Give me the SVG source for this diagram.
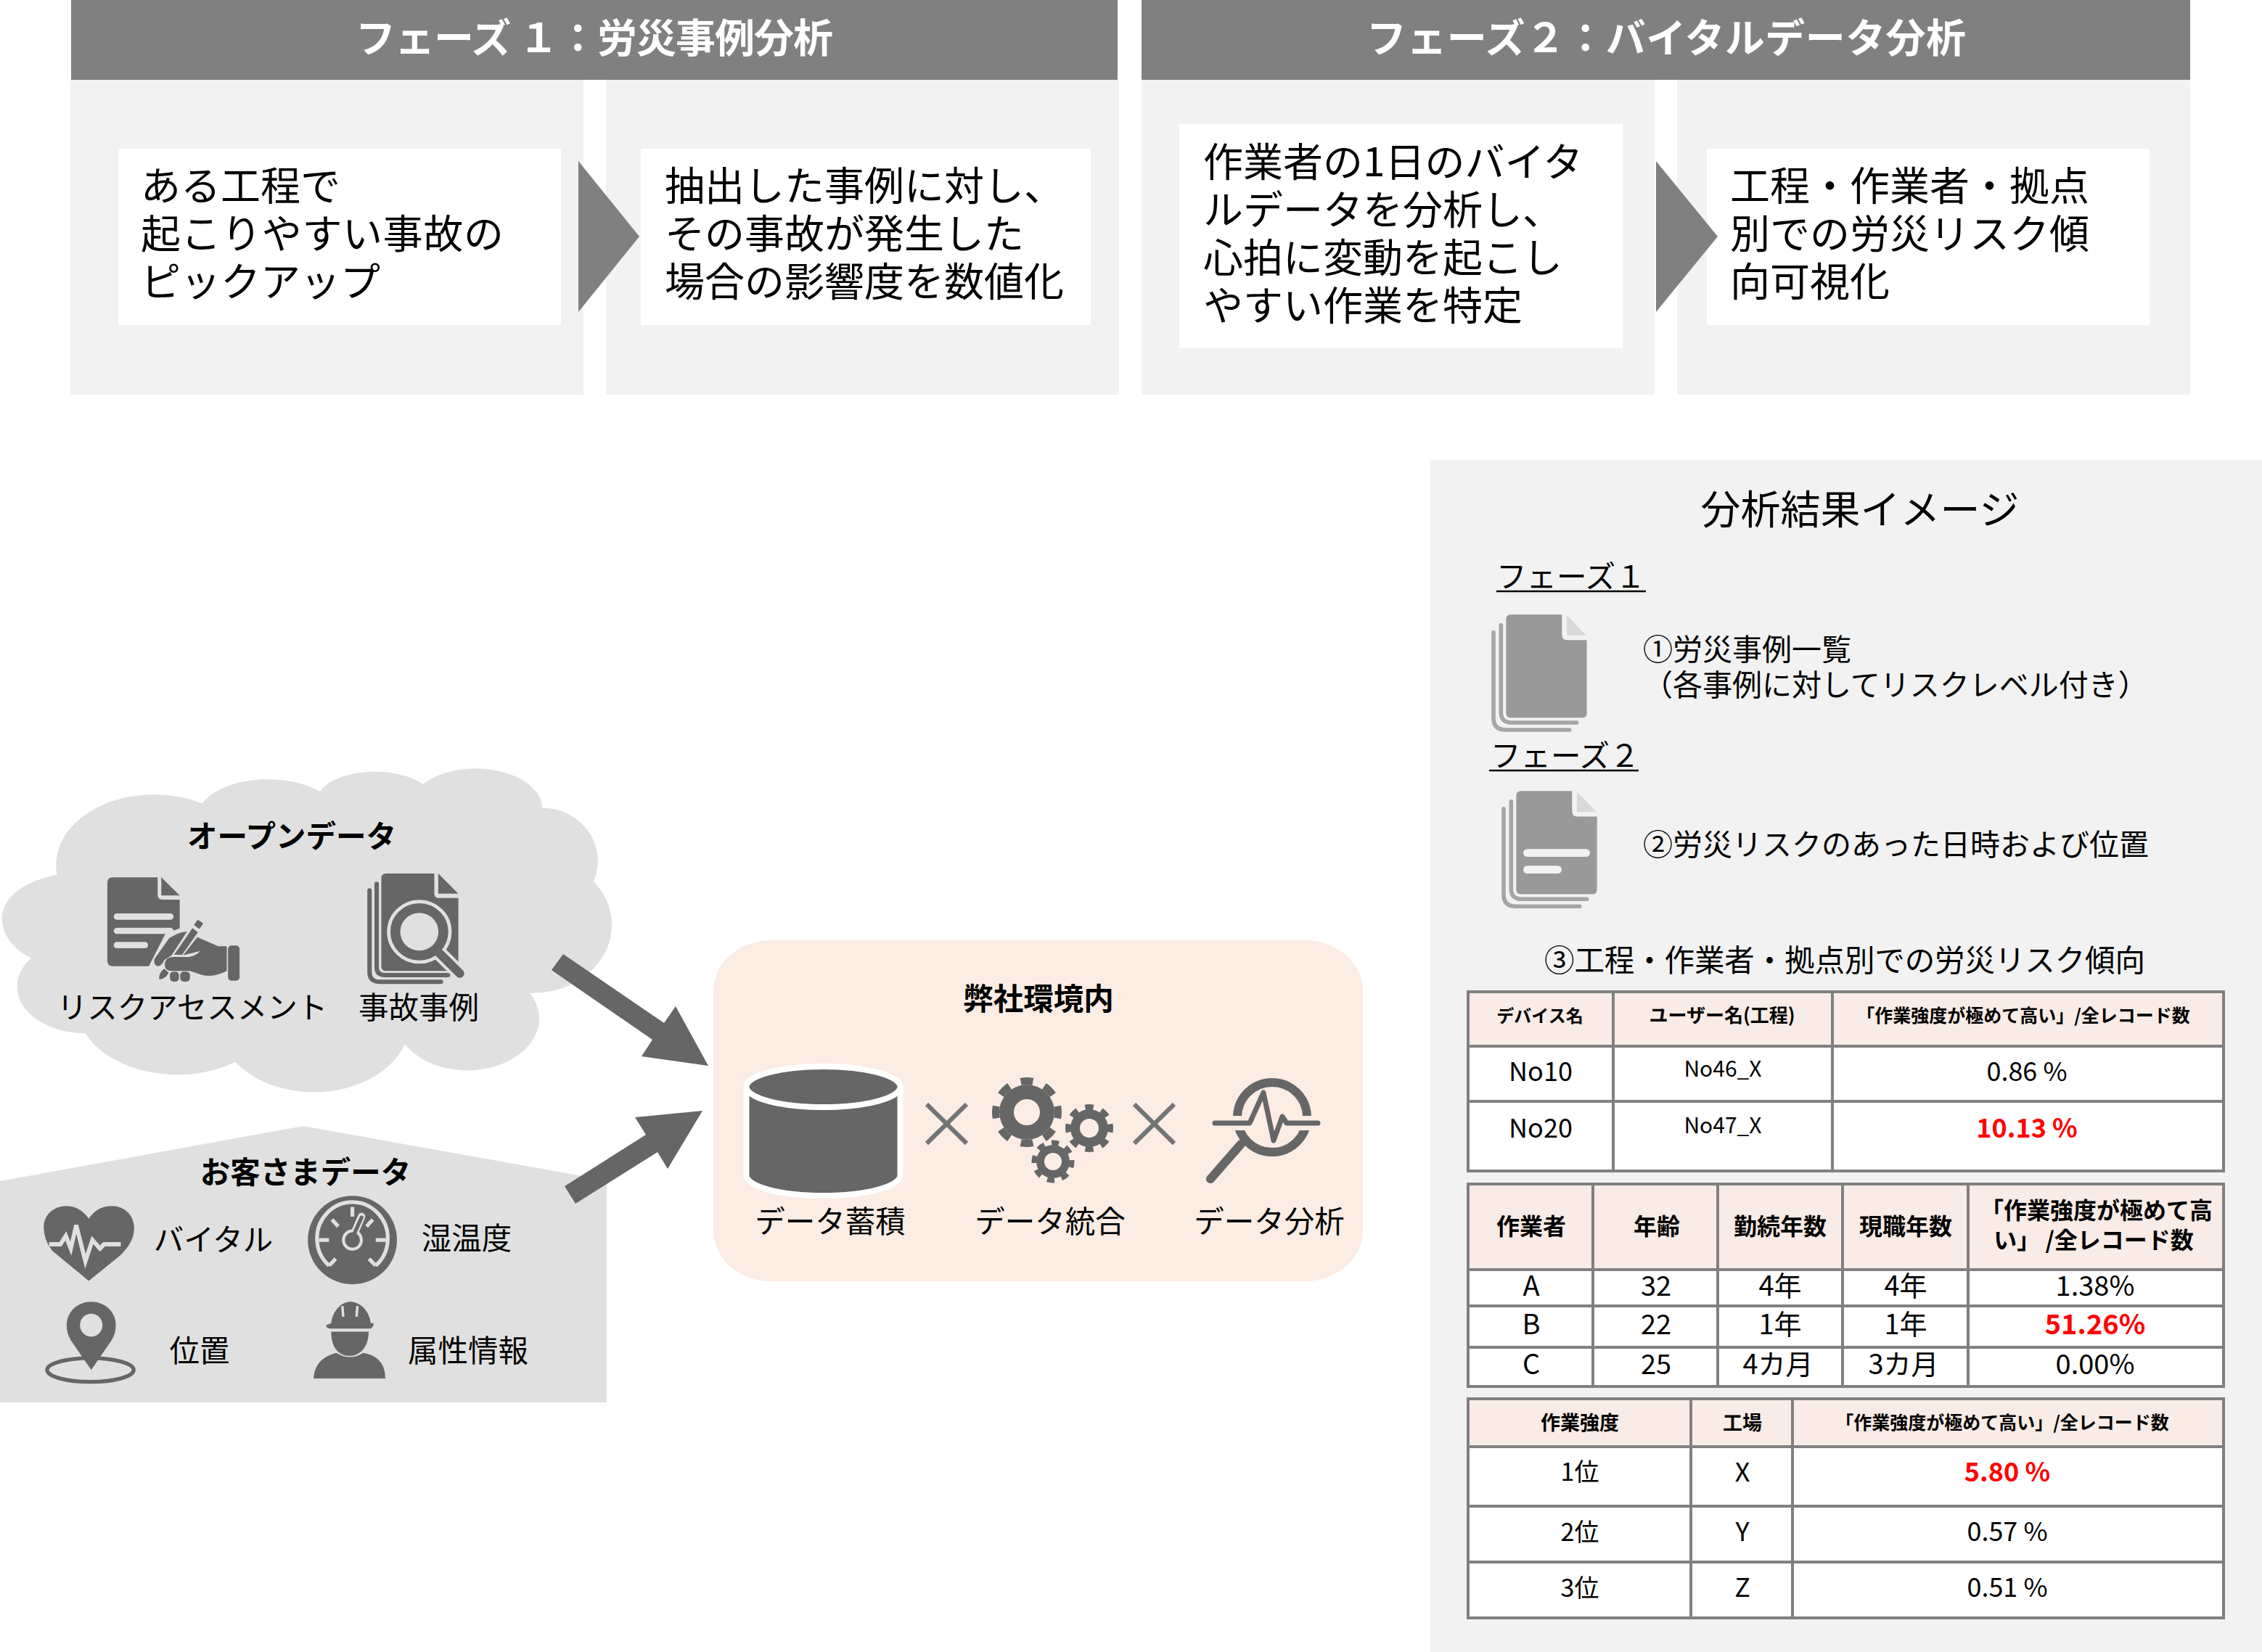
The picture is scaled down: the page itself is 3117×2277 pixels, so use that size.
<svg xmlns="http://www.w3.org/2000/svg" width="3117" height="2277" viewBox="0 0 3117 2277">
<style>
text{font-family:"Noto Sans CJK JP","Noto Sans",sans-serif;fill:#000}
.b{font-weight:700}.w{fill:#fff}.r{fill:#f00;font-weight:700}
.m{text-anchor:middle}
.t55{font-size:55px}.t41{font-size:41.5px}.t40{font-size:41px}.t24{font-size:24px;font-weight:700}.t25{font-size:25px;font-weight:700}.t26{font-size:26px;font-weight:700}.t32{font-size:32px;font-weight:700}.t27{font-size:27px;font-weight:700}
.t36{font-size:36px}.t30{font-size:30px}.t38{font-size:38px}.t34{font-size:34px}
.hd{fill:#808080}.pn{fill:#f2f2f2}.wb{fill:#fff}.ch{fill:#808080}
.ic{fill:#666}.cl{fill:#e0e0e0}.cs{stroke:#e0e0e0;fill:none}
.tb{fill:#fff;stroke:#808080;stroke-width:4}.th{fill:#f9ebe5}.tl{stroke:#808080;stroke-width:4;fill:none}
.pk{fill:#fbece4}.doc{fill:#999}.fold{fill:#d9d9d9}.st{stroke:#a6a6a6;stroke-width:17;fill:none;stroke-linecap:round}
.x{stroke:#747474;stroke-width:6;fill:none}
.gear{fill:#666}
</style>
<rect width="3117" height="2277" fill="#fff"/>

<g id="phase1">
<rect class="pn" x="97" y="110" width="707" height="434"/>
<rect class="pn" x="835" y="110" width="707" height="434"/>
<rect class="hd" x="98" y="0" width="1442" height="110"/>
<text class="t55 b w m" x="819" y="72" textLength="658">フェーズ １：労災事例分析</text>
<rect class="wb" x="163" y="205" width="610" height="243"/>
<text class="t55" x="194" y="276">ある工程で</text>
<text class="t55" x="194" y="342" textLength="500">起こりやすい事故の</text>
<text class="t55" x="194" y="408">ピックアップ</text>
<rect class="wb" x="883" y="205" width="620" height="243"/>
<text class="t55" x="916" y="276">抽出した事例に対し、</text>
<text class="t55" x="916" y="342">その事故が発生した</text>
<text class="t55" x="916" y="408">場合の影響度を数値化</text>
<polygon class="ch" points="797,222 881,326 797,430" />
</g>

<g id="phase2">
<rect class="pn" x="1573" y="110" width="707" height="434"/>
<rect class="pn" x="2311" y="110" width="707" height="434"/>
<rect class="hd" x="1573" y="0" width="1445" height="110"/>
<text class="t55 b w m" x="2296" y="72" textLength="826">フェーズ２：バイタルデータ分析</text>
<rect class="wb" x="1625" y="171" width="611" height="309"/>
<text class="t55" x="1658" y="243">作業者の1日のバイタ</text>
<text class="t55" x="1658" y="309">ルデータを分析し、</text>
<text class="t55" x="1658" y="375">心拍に変動を起こし</text>
<text class="t55" x="1658" y="441">やすい作業を特定</text>
<rect class="wb" x="2352" y="205" width="610" height="243"/>
<text class="t55" x="2384" y="276">工程・作業者・拠点</text>
<text class="t55" x="2384" y="342">別での労災リスク傾</text>
<text class="t55" x="2384" y="408">向可視化</text>
<polygon class="ch" points="2282,222 2367,326 2282,430"/>
</g>

<g id="open-data">
<g transform="translate(0 1040) scale(.574 .587)">
<path class="cl" d="M137,282 A235,165 0 0 1 485,115 A170,90 0 0 1 768,87 A140,70 0 0 1 1015,70 A160,95 0 0 1 1302,125 A135,125 0 0 1 1425,298 A190,160 0 0 1 1272,560 A170,120 0 0 1 972,680 A230,165 0 0 1 565,722 A240,160 0 0 1 205,655 A165,110 0 0 1 75,478 C-10,440 -47,320 137,282Z"/>
</g>
<text class="t41 b m" x="402" y="1168">オープンデータ</text>
<g transform="translate(130 1190) scale(.338 .3333)">
<path class="ic" d="M75,58 H258 V130 Q258,150 278,150 H348 V425 H75 Q53,425 53,403 V80 Q53,58 75,58Z"/>
<polygon class="ic" points="273,58 348,133 273,133"/>
<g stroke="#e0e0e0" stroke-width="26" stroke-linecap="round" fill="none"><path d="M92,220 H310M92,279 H310M92,338 H206"/></g>
<path class="cl" d="M220,430 L290,290 L400,250 L560,330 V500 H220Z"/>
<path class="ic" d="M420,305 L505,343 H540 V445 Q490,472 440,462 L390,445 H315 Q285,445 287,415 Q290,388 320,387 H385 Q415,382 432,362 L362,380Z"/>
<path class="ic" d="M305,310 Q340,285 378,282 L315,380 L285,400 Q275,425 258,425 Q240,420 245,395Z"/>
<polygon class="ic" points="400,268 422,285 358,378 325,378"/>
<rect class="ic" x="411" y="238" width="28" height="28" rx="5" transform="rotate(35 425 252)"/>
<path class="ic" d="M285,435 L303,452 Q290,478 265,480 Q260,455 285,435Z"/>
<rect class="ic" x="308" y="448" width="37" height="41" rx="15"/>
<rect class="ic" x="350" y="448" width="40" height="41" rx="15"/>
<rect class="ic" x="545" y="340" width="47" height="145" rx="14"/>
</g>
<g transform="translate(130 1190) scale(.338 .3333)">
<path class="ic" d="M1190,42 H1386 V125 Q1386,143 1405,143 H1484 V445 H1190 Q1170,445 1170,425 V62 Q1170,42 1190,42Z"/>
<polygon class="ic" points="1402,42 1484,125 1402,125"/>
<path d="M1151,85 V430 Q1151,462 1185,462 H1442M1122,112 V450 Q1122,490 1165,490 H1413" stroke="#666" stroke-width="18" stroke-linecap="round" fill="none"/>
<line x1="1400" y1="365" x2="1492" y2="457" stroke="#e0e0e0" stroke-width="60" stroke-linecap="round"/>
<circle cx="1325" cy="283" r="125" class="ic" stroke="#e0e0e0" stroke-width="14"/>
<circle cx="1325" cy="283" r="78" class="cl"/>
<line x1="1405" y1="370" x2="1490" y2="455" stroke="#666" stroke-width="36" stroke-linecap="round"/>
</g>
<text class="t41 m" x="265" y="1404">リスクアセスメント</text>
<text class="t41 m" x="577" y="1404">事故事例</text>
</g>

<g id="customer-data">
<polygon class="cl" points="0,1628 418,1552 836,1627 836,1933 0,1933"/>
<text class="t41 b m" x="421" y="1631">お客さまデータ</text>
<g transform="translate(0 1040) scale(.574 .587)">
<path class="ic" d="M213,1236 L125,1165 Q105,1140 105,1110 C105,1080 130,1060 160,1060 C185,1060 203,1075 213,1090 C223,1075 240,1060 267,1060 C300,1060 322,1082 322,1112 C322,1140 305,1160 290,1175Z"/>
<path class="cs" stroke-width="10" d="M118,1150 H145 L158,1130 L170,1160 L183,1105 L205,1190 L222,1140 L240,1160 L250,1150 H290"/>
<ellipse class="ic" cx="846" cy="1140" rx="107" ry="104"/>
<path class="cs" stroke-width="9" d="M790,1200 A85,85 0 1 1 902,1200M846,1062 V1085M797,1092 L812,1108M766,1140 H790M926,1140 H902M895,1092 L880,1108M790,1200 L806,1184M902,1200 L886,1184"/>
<line x1="846" y1="1135" x2="868" y2="1085" stroke="#e0e0e0" stroke-width="18" stroke-linecap="round"/>
<circle cx="846" cy="1140" r="25" class="cl"/>
<circle cx="846" cy="1140" r="18" class="ic"/>
<line x1="846" y1="1135" x2="868" y2="1087" stroke="#666" stroke-width="9" stroke-linecap="round"/>
<ellipse cx="217" cy="1445" rx="104" ry="28" fill="none" stroke="#666" stroke-width="9"/>
<path class="ic" d="M219,1445 L170,1375 Q160,1360 160,1340 C160,1308 187,1285 219,1285 C251,1285 278,1308 278,1340 Q278,1360 268,1375Z"/>
<circle cx="219" cy="1340" r="27" class="cl"/>
<path class="ic" d="M795,1335 C800,1300 825,1285 840,1285 C860,1285 885,1300 890,1335 H897 Q897,1348 885,1348 H795 Q783,1348 783,1340Z"/>
<path class="cs" stroke-width="6" d="M822,1295 L824,1320M858,1295 L856,1320"/>
<path class="ic" d="M795,1355 H885 C885,1395 860,1412 840,1412 C815,1412 795,1395 795,1355Z"/>
<path class="ic" d="M753,1465 C755,1425 785,1410 808,1405 Q840,1425 872,1405 C900,1410 925,1425 925,1465Z"/>
</g>
<text class="t41 m" x="294" y="1724">バイタル</text>
<text class="t41 m" x="643" y="1722">湿温度</text>
<text class="t41 m" x="275" y="1877">位置</text>
<text class="t41 m" x="645" y="1877">属性情報</text>
</g>

<g id="connectors">
<polygon class="ic" points="776,1315 915,1410 931,1387 976,1469 884,1456 899,1433 760,1337"/>
<polygon class="ic" points="778,1635 890,1564 875,1540 968,1531 920,1611 906,1588 793,1659"/>
</g>

<g id="our-environment">
<rect class="pk" x="983" y="1296" width="895" height="470" rx="80" ry="70"/>
<text class="t41 b m" x="1431" y="1392">弊社環境内</text>
<g id="storage">
<path d="M1028.5,1498 A106,28 0 0 1 1240.5,1498 V1620 A106,28 0 0 1 1028.5,1620Z" class="ic" stroke="#fff" stroke-width="8"/>
<ellipse cx="1134.5" cy="1498" rx="106" ry="28" class="ic" stroke="#fff" stroke-width="8"/>
</g>
<text class="t41 m" x="1144" y="1699">データ蓄積</text>
<path class="x" d="M1277,1522 L1332,1576M1332,1522 L1277,1576"/>
<g id="gears">
<circle class="gear" cx="1415" cy="1533" r="38"/>
<circle cx="1415" cy="1533" r="43" pathLength="8" fill="none" stroke="#666" stroke-width="10" stroke-dasharray=".5 .5" stroke-dashoffset=".25"/>
<circle class="pk" cx="1415" cy="1533" r="18"/>
<circle class="gear" cx="1501" cy="1555" r="26"/>
<circle cx="1501" cy="1555" r="29" pathLength="8" fill="none" stroke="#666" stroke-width="8" stroke-dasharray=".5 .5" stroke-dashoffset=".25"/>
<circle class="pk" cx="1501" cy="1555" r="13"/>
<circle class="gear" cx="1451" cy="1601" r="23"/>
<circle cx="1451" cy="1601" r="26" pathLength="8" fill="none" stroke="#666" stroke-width="7" stroke-dasharray=".5 .5" stroke-dashoffset=".1"/>
<circle class="pk" cx="1451" cy="1601" r="12"/>
</g>
<text class="t41 m" x="1447" y="1699">データ統合</text>
<path class="x" d="M1563,1522 L1618,1576M1618,1522 L1563,1576"/>
<g id="analysis">
<circle cx="1753" cy="1540" r="48" fill="none" stroke="#666" stroke-width="12"/>
<line x1="1710" y1="1577" x2="1668" y2="1625" stroke="#666" stroke-width="12" stroke-linecap="round"/>
<path d="M1674,1548 H1726M1773,1548 H1819" fill="none" stroke="#fbece4" stroke-width="20"/>
<path d="M1674,1548 H1722 L1741,1506 L1755,1572 L1767,1539 L1773,1548 H1816" fill="none" stroke="#666" stroke-width="7" stroke-linecap="round" stroke-linejoin="round"/>
</g>
<text class="t41 m" x="1749" y="1699">データ分析</text>
</g>

<g id="results">
<rect class="pn" x="1971" y="634" width="1146" height="1643"/>
<text class="t55 m" x="2563" y="722">分析結果イメージ</text>
<text class="t41" x="2062" y="810">フェーズ１</text>
<line x1="2062" y1="815" x2="2268" y2="815" stroke="#000" stroke-width="2.5"/>
<g transform="translate(2000 760) scale(.3333)">
<path id="docA" class="doc" d="M246,261 H457 V345 Q457,367 479,367 H560 V668 Q560,688 540,688 H246 Q226,688 226,668 V281 Q226,261 246,261Z"/>
<polygon class="fold" points="477,265 558,347 477,347"/>
<path class="st" d="M205,305 V665 Q205,708 250,708 H518M174,335 V690 Q174,738 225,738 H488"/>
</g>
<text class="t40" x="2264" y="910">①労災事例一覧</text>
<text class="t40" x="2264" y="959">（各事例に対してリスクレベル付き）</text>
<text class="t41" x="2054" y="1057">フェーズ２</text>
<line x1="2052" y1="1062" x2="2258" y2="1062" stroke="#000" stroke-width="2.5"/>
<g transform="translate(2014 1003.3) scale(.3333)">
<path class="doc" d="M246,261 H457 V345 Q457,367 479,367 H560 V668 Q560,688 540,688 H246 Q226,688 226,668 V281 Q226,261 246,261Z"/>
<polygon class="fold" points="477,265 558,347 477,347"/>
<path class="st" d="M205,305 V665 Q205,708 250,708 H518M174,335 V690 Q174,738 225,738 H488"/>
<path d="M271,517 H515M271,586 H398" stroke="#f2f2f2" stroke-width="32" stroke-linecap="round" fill="none"/>
</g>
<text class="t40" x="2264" y="1179">②労災リスクのあった日時および位置</text>
<text class="t41" x="2128" y="1339" textLength="828">③工程・作業者・拠点別での労災リスク傾向</text>
</g>

<g id="table1">
<rect class="tb" x="2023" y="1367" width="1041" height="247"/>
<rect class="th" x="2025" y="1369" width="1037" height="72"/>
<path class="tl" d="M2023,1367 H3064 V1614 H2023ZM2023,1442 H3064M2023,1518 H3064M2223,1367 V1614M2525,1367 V1614"/>
<text class="t24 m" x="2122" y="1409">デバイス名</text>
<text class="t26 m" x="2373" y="1409">ユーザー名(工程)</text>
<text class="t25 m" x="2788" y="1409">「作業強度が極めて高い」/全レコード数</text>
<text class="t36 m" x="2123" y="1490">No10</text>
<text class="t30 m" x="2374" y="1484">No46_X</text>
<text class="t36 m" x="2793" y="1490">0.86 %</text>
<text class="t36 m" x="2123" y="1568">No20</text>
<text class="t30 m" x="2374" y="1562">No47_X</text>
<text class="t36 r m" x="2793" y="1568">10.13 %</text>
</g>

<g id="table2">
<rect class="tb" x="2023" y="1632" width="1041" height="279"/>
<rect class="th" x="2025" y="1634" width="1037" height="116"/>
<path class="tl" d="M2023,1632 H3064 V1911 H2023ZM2023,1750 H3064M2023,1800 H3064M2023,1857 H3064M2195,1632 V1911M2367,1632 V1911M2539,1632 V1911M2712,1632 V1911"/>
<text class="t32 m" x="2110" y="1702">作業者</text>
<text class="t32 m" x="2283" y="1702">年齢</text>
<text class="t32 m" x="2453" y="1702">勤続年数</text>
<text class="t32 m" x="2626" y="1702">現職年数</text>
<text class="t32 m" x="2889" y="1680">「作業強度が極めて高</text>
<text class="t32 m" x="2885" y="1721">い」 /全レコード数</text>
<text class="t38 m" x="2110" y="1786">A</text><text class="t38 m" x="2282" y="1786">32</text><text class="t38 m" x="2453" y="1786">4年</text><text class="t38 m" x="2626" y="1786">4年</text><text class="t38 m" x="2887" y="1786">1.38%</text>
<text class="t38 m" x="2110" y="1839">B</text><text class="t38 m" x="2282" y="1839">22</text><text class="t38 m" x="2453" y="1839">1年</text><text class="t38 m" x="2626" y="1839">1年</text><text class="t38 r m" x="2887" y="1839">51.26%</text>
<text class="t38 m" x="2110" y="1894">C</text><text class="t38 m" x="2282" y="1894">25</text><text class="t38 m" x="2450" y="1894">4カ月</text><text class="t38 m" x="2623" y="1894">3カ月</text><text class="t38 m" x="2887" y="1894">0.00%</text>
</g>

<g id="table3">
<rect class="tb" x="2023" y="1928" width="1041" height="302"/>
<rect class="th" x="2025" y="1930" width="1037" height="63"/>
<path class="tl" d="M2023,1928 H3064 V2230 H2023ZM2023,1994 H3064M2023,2076 H3064M2023,2153 H3064M2330,1928 V2230M2470,1928 V2230"/>
<text class="t27 m" x="2177" y="1971">作業強度</text>
<text class="t27 m" x="2401" y="1971">工場</text>
<text class="t25 m" x="2759" y="1970">「作業強度が極めて高い」/全レコード数</text>
<text class="t34 m" x="2177" y="2041">1位</text><text class="t36 m" x="2401" y="2042">X</text><text class="t36 r m" x="2766" y="2042">5.80 %</text>
<text class="t34 m" x="2177" y="2124">2位</text><text class="t36 m" x="2401" y="2124">Y</text><text class="t36 m" x="2766" y="2124">0.57 %</text>
<text class="t34 m" x="2177" y="2201">3位</text><text class="t36 m" x="2401" y="2201">Z</text><text class="t36 m" x="2766" y="2201">0.51 %</text>
</g>
</svg>
